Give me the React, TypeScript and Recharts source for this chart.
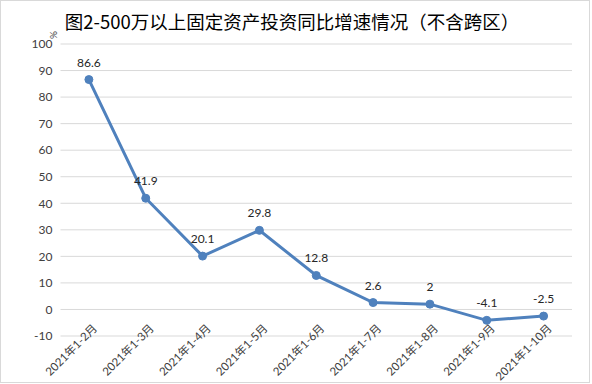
import React from 'react';
import { LineChart, Line, XAxis, YAxis, CartesianGrid, LabelList } from 'recharts';

const categories = [
  '2021年1-2月',
  '2021年1-3月',
  '2021年1-4月',
  '2021年1-5月',
  '2021年1-6月',
  '2021年1-7月',
  '2021年1-8月',
  '2021年1-9月',
  '2021年1-10月',
];
const growth = [86.6, 41.9, 20.1, 29.8, 12.8, 2.6, 2, -4.1, -2.5];
const yTicks = [-10, 0, 10, 20, 30, 40, 50, 60, 70, 80, 90, 100];
const title = '图2-500万以上固定资产投资同比增速情况（不含跨区）';

const data = categories.map((name, i) => ({ name, value: growth[i] }));

const FONT = "Lato, 'Noto Sans CJK SC', sans-serif";

// rotated category label, end of text sits just right of the point
const CategoryTick = ({ x, y, payload }: any) => {
  const ax = x + 9;
  const ay = y - 7;
  return (
    <text
      x={ax}
      y={ay}
      transform={`rotate(-45, ${ax}, ${ay})`}
      textAnchor="end"
      fontSize={11.5}
      fontFamily={FONT}
      fill="#404040"
    >
      {payload.value}
    </text>
  );
};

export default function App() {
  return (
    <div style={{ position: 'fixed', left: 0, top: 0, width: 592, height: 384, background: '#fff' }}>
      <div
        style={{
          position: 'absolute',
          left: 0,
          top: 0,
          width: 590,
          height: 383,
          boxSizing: 'border-box',
          border: '1px solid #d9d9d9',
        }}
      />
      <div
        style={{
          position: 'absolute',
          left: 0,
          top: 9,
          width: 584,
          textAlign: 'center',
          fontFamily: "'Noto Sans CJK SC', sans-serif",
          fontSize: 18.5,
          lineHeight: '24px',
          color: '#000',
        }}
      >
        {title}
      </div>
      <div
        style={{
          position: 'absolute',
          left: 50,
          top: 29,
          fontFamily: FONT,
          fontSize: 10,
          color: '#404040',
          transform: 'rotate(90deg)',
        }}
      >
        %
      </div>
      <div style={{ position: 'absolute', left: 0, top: 0 }}>
        <LineChart width={592} height={384} data={data} margin={{ top: 44, right: 20, bottom: 0, left: 0 }}>
          <CartesianGrid stroke="#d9d9d9" vertical={false} />
          <XAxis
            dataKey="name"
            axisLine={false}
            tickLine={false}
            tickSize={0}
            tickMargin={0}
            height={48}
            interval={0}
            padding={{ left: 28.4, right: 28.4 }}
            tick={<CategoryTick />}
          />
          <YAxis
            domain={[-10, 100]}
            ticks={yTicks}
            interval={0}
            width={60.5}
            axisLine={false}
            tickLine={false}
            tickSize={0}
            tickMargin={8}
            tick={{ fontSize: 12, fill: '#404040', fontFamily: FONT }}
          />
          <Line
            type="linear"
            dataKey="value"
            stroke="#4F81BD"
            strokeWidth={3}
            dot={{ r: 4, fill: '#4F81BD', stroke: '#4F81BD', strokeWidth: 1 }}
            isAnimationActive={false}
          >
            <LabelList dataKey="value" position="top" offset={13} fontSize={12} fill="#262626" fontFamily={FONT} />
          </Line>
        </LineChart>
      </div>
    </div>
  );
}
